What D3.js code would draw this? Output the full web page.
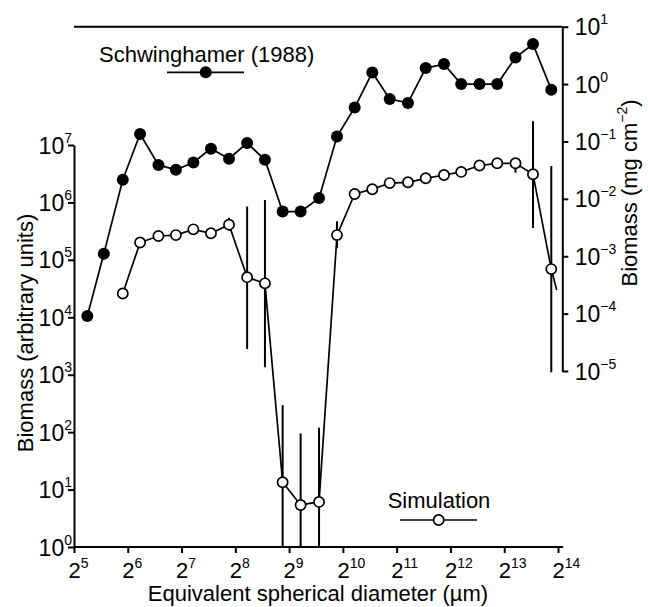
<!DOCTYPE html>
<html>
<head>
<meta charset="utf-8">
<script src="https://cdn.jsdelivr.net/npm/d3@7"></script>
<style>
  html, body { margin: 0; padding: 0; background: #fff; }
  svg { display: block; }
</style>
</head>
<body>
<svg id="chart" width="648" height="607"></svg>
<script>
// ---------------- data ----------------
// Equivalent spherical diameter (µm) of each size class (Schwinghamer series)
const diameterUm = [38, 47, 60, 75, 95, 119, 149, 187, 236, 298, 375, 471, 594, 753, 949,
  1192, 1496, 1872, 2369, 2978, 3769, 4705, 5956, 7486, 9476, 11870, 15024];
// Schwinghamer (1988) biomass, mg cm^-2 (right axis)
const schwinghamerBiomass = [9.1e-5, 1.1e-3, 0.0215, 0.135, 0.039, 0.032, 0.043, 0.075, 0.050,
  0.094, 0.048, 0.006, 0.006, 0.0103, 0.122, 0.39, 1.59, 0.55, 0.47, 1.9, 2.23, 1.0, 1.0, 1.0,
  2.9, 4.98, 0.80];
// Simulation size classes (µm)
const simDiameterUm = [60, 75, 95, 119, 149, 187, 236, 298, 375, 471, 594, 753, 949,
  1192, 1496, 1872, 2369, 2978, 3769, 4705, 5956, 7486, 9476, 11870, 15024];
// Simulation biomass, arbitrary units (left axis)
const simulationBiomass = [2.6e4, 2.0e5, 2.6e5, 2.7e5, 3.4e5, 2.9e5, 4.1e5, 5.0e4, 3.9e4,
  13.4, 5.4, 6.1, 2.7e5, 1.4e6, 1.7e6, 2.17e6, 2.24e6, 2.63e6, 3.0e6, 3.4e6, 4.4e6, 4.8e6,
  4.8e6, 3.1e6, 6.9e4];
// Simulation error bars (null = none drawn)
const simErrLow = [null, null, null, null, null, null, 3.2e5, 2.8e3, 1.35e3, 1, 1, 1, 1.6e5,
  null, null, null, null, null, null, null, null, null, 3.3e6, 3.6e5, 1.1e3];
const simErrHigh = [null, null, null, null, null, null, 5.4e5, 8.5e5, 1.1e6, 295, 95, 120, 4.7e5,
  null, null, null, null, null, null, null, null, null, 5.8e6, 2.6e7, 4.3e6];
// trailing segment of the simulation line beyond the last marker
const simTailDiameterUm = [15024, 16102];
const simTailBiomass = [6.9e4, 3.0e4];

// tick values
const xTickExponents = [5, 6, 7, 8, 9, 10, 11, 12, 13, 14];
const leftTickExponents = [0, 1, 2, 3, 4, 5, 6, 7];
const rightTickExponents = [-5, -4, -3, -2, -1, 0, 1];

// ---------------- drawing ----------------
const FONT = "'Liberation Sans', Arial, Helvetica, sans-serif";
const svg = d3.select("#chart");

const x = d3.scaleLog().base(2).domain([2 ** 5, 2 ** 14]).range([74, 558]);
const yL = d3.scaleLog().domain([1, 1e7]).range([547, 145]);
const yR = d3.scaleLog().domain([1e-5, 10]).range([371, 26.7]);
const xRight = 562.3;

const AX_W = 2;
const LINE_W = 1.7;

function styleAxis(g) {
  g.selectAll("path.domain").attr("stroke", "#000").attr("stroke-width", AX_W);
  g.selectAll(".tick line").attr("stroke", "#000").attr("stroke-width", AX_W);
  g.selectAll(".tick text").attr("fill", "#000").attr("font-family", FONT);
}

function supText(textSel, base, supFn, supDy, baseSize) {
  textSel.each(function (d, i) {
    const t = d3.select(this);
    t.text(null);
    t.append("tspan").attr("font-size", baseSize).text(base);
    t.append("tspan").attr("font-size", 14).attr("dy", supDy).text(supFn(d, i));
  });
}

// Left axis
const gL = svg.append("g").attr("transform", `translate(74,0)`)
  .call(d3.axisLeft(yL).tickValues(leftTickExponents.map(e => 10 ** e))
    .tickFormat("").tickSize(6).tickSizeOuter(0));
styleAxis(gL);
gL.selectAll(".tick text").attr("x", -2).attr("dy", null).attr("y", 8).attr("text-anchor", "end");
supText(gL.selectAll(".tick text"), "10", (d, i) => String(leftTickExponents[i]), -11, 23);

// Right axis
const gR = svg.append("g").attr("transform", `translate(${xRight},0)`)
  .call(d3.axisRight(yR).tickValues(rightTickExponents.map(e => 10 ** e))
    .tickFormat("").tickSize(6).tickSizeOuter(0));
styleAxis(gR);
gR.selectAll(".tick text").attr("x", 12.4).attr("dy", null).attr("y", 8).attr("text-anchor", "start");
supText(gR.selectAll(".tick text"), "10",
  (d, i) => (rightTickExponents[i] < 0 ? "\u2212" + Math.abs(rightTickExponents[i]) : String(rightTickExponents[i])), -11, 23);

// Bottom axis
const gB = svg.append("g").attr("transform", `translate(0,547)`)
  .call(d3.axisBottom(x).tickValues(xTickExponents.map(e => 2 ** e))
    .tickFormat("").tickSize(6).tickSizeOuter(0));
styleAxis(gB);
gB.select("path.domain").remove();
gB.append("line").attr("x1", 74).attr("x2", xRight + 1).attr("y1", 0).attr("y2", 0)
  .attr("stroke", "#000").attr("stroke-width", AX_W);
gB.selectAll(".tick text").attr("x", -6).attr("dy", null).attr("y", 31).attr("text-anchor", "start");
supText(gB.selectAll(".tick text"), "2", (d, i) => String(xTickExponents[i]), -10, 22);

// Top line
svg.append("line").attr("x1", 74).attr("x2", xRight).attr("y1", yR(10)).attr("y2", yR(10))
  .attr("stroke", "#000").attr("stroke-width", AX_W);

// Axis titles
svg.append("text").attr("x", 318).attr("y", 601).attr("text-anchor", "middle")
  .attr("font-family", FONT).attr("font-size", 22).text("Equivalent spherical diameter (\u00b5m)");
svg.append("text").attr("transform", "translate(33,333) rotate(-90)").attr("text-anchor", "middle")
  .attr("font-family", FONT).attr("font-size", 22).text("Biomass (arbitrary units)");
const rt = svg.append("text").attr("transform", "translate(637,193) rotate(-90)").attr("text-anchor", "middle")
  .attr("font-family", FONT).attr("font-size", 22);
rt.append("tspan").text("Biomass (mg cm");
rt.append("tspan").attr("font-size", 14).attr("dy", -10).text("\u22122");
rt.append("tspan").attr("dy", 10).text(")");

// Series lines
const schwData = diameterUm.map((d, i) => [d, schwinghamerBiomass[i]]);
const simData = simDiameterUm.map((d, i) => [d, simulationBiomass[i]]);
const tailData = simTailDiameterUm.map((d, i) => [d, simTailBiomass[i]]);

svg.append("path").datum(schwData)
  .attr("d", d3.line().x(d => x(d[0])).y(d => yR(d[1])))
  .attr("fill", "none").attr("stroke", "#000").attr("stroke-width", LINE_W);
svg.append("path").datum(simData)
  .attr("d", d3.line().x(d => x(d[0])).y(d => yL(d[1])))
  .attr("fill", "none").attr("stroke", "#000").attr("stroke-width", LINE_W);
svg.append("path").datum(tailData)
  .attr("d", d3.line().x(d => x(d[0])).y(d => yL(d[1])))
  .attr("fill", "none").attr("stroke", "#000").attr("stroke-width", LINE_W);

// Error bars
const errData = simDiameterUm.map((d, i) => ({ d, lo: simErrLow[i], hi: simErrHigh[i] }))
  .filter(e => e.lo !== null && e.hi !== null);
svg.append("g").selectAll("line").data(errData).join("line")
  .attr("x1", e => x(e.d)).attr("x2", e => x(e.d))
  .attr("y1", e => yL(e.lo)).attr("y2", e => yL(e.hi))
  .attr("stroke", "#000").attr("stroke-width", 2);

// Markers
svg.append("g").selectAll("circle").data(schwData).join("circle")
  .attr("cx", d => x(d[0])).attr("cy", d => yR(d[1])).attr("r", 6).attr("fill", "#000");
svg.append("g").selectAll("circle").data(simData).join("circle")
  .attr("cx", d => x(d[0])).attr("cy", d => yL(d[1])).attr("r", 5.1)
  .attr("fill", "#fff").attr("stroke", "#000").attr("stroke-width", 1.7);

// Legends
svg.append("text").attr("x", 99).attr("y", 62).attr("font-family", FONT).attr("font-size", 22)
  .text("Schwinghamer (1988)");
svg.append("line").attr("x1", 167).attr("x2", 244).attr("y1", 72.3).attr("y2", 72.3)
  .attr("stroke", "#000").attr("stroke-width", LINE_W);
svg.append("circle").attr("cx", 205.7).attr("cy", 72.3).attr("r", 6).attr("fill", "#000");

svg.append("text").attr("x", 439).attr("y", 508).attr("text-anchor", "middle")
  .attr("font-family", FONT).attr("font-size", 22).text("Simulation");
svg.append("line").attr("x1", 400).attr("x2", 477).attr("y1", 520).attr("y2", 520)
  .attr("stroke", "#000").attr("stroke-width", LINE_W);
svg.append("circle").attr("cx", 438.7).attr("cy", 520).attr("r", 5.1)
  .attr("fill", "#fff").attr("stroke", "#000").attr("stroke-width", 1.7);
</script>
</body>
</html>
